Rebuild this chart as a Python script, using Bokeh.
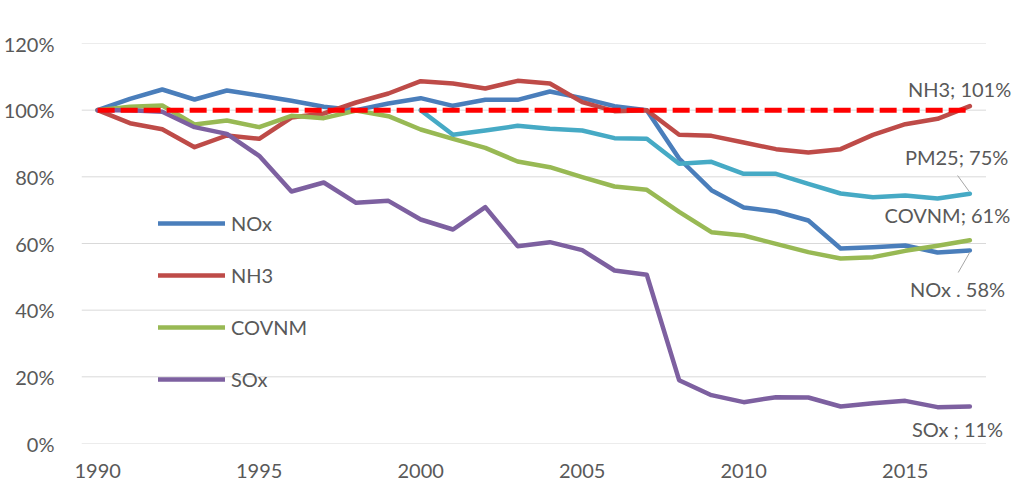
from bokeh.plotting import figure
from bokeh.models import Range1d, Legend, LegendItem, Label, PrintfTickFormatter, FixedTicker
from bokeh.embed import file_html
from bokeh.resources import INLINE

years = list(range(1990, 2018))
nox = [100, 103.4, 106.2, 103.2, 105.9, 104.4, 102.8, 101.0, 100.0, 102.0,
       103.6, 101.3, 103.1, 103.1, 105.6, 103.6, 101.2, 100.0, 85.5, 76.0,
       70.8, 69.6, 66.9, 58.5, 58.9, 59.4, 57.3, 57.9]
nh3 = [100, 96.1, 94.3, 88.9, 92.4, 91.4, 97.8, 99.0, 102.3, 105.0,
       108.7, 108.0, 106.5, 108.8, 108.0, 102.4, 99.7, 100.0, 92.6, 92.3,
       90.3, 88.3, 87.3, 88.3, 92.6, 95.8, 97.4, 101.2]
covnm = [100, 101.0, 101.4, 95.7, 96.9, 94.9, 98.3, 97.6, 99.9, 98.2,
         94.2, 91.4, 88.7, 84.6, 82.9, 79.9, 77.1, 76.1, 69.5, 63.4,
         62.4, 59.9, 57.4, 55.5, 55.9, 57.8, 59.3, 61.0]
sox = [100, 100.0, 99.5, 94.9, 92.9, 86.3, 75.6, 78.3, 72.2, 72.8,
       67.2, 64.2, 70.9, 59.2, 60.4, 58.0, 51.9, 50.6, 19.0, 14.5,
       12.4, 13.9, 13.8, 11.1, 12.1, 12.8, 10.9, 11.1]
pm25_years = list(range(2000, 2018))
pm25 = [100, 92.6, 93.9, 95.3, 94.4, 93.9, 91.6, 91.4, 83.9, 84.5,
        80.9, 80.9, 77.9, 75.0, 73.9, 74.4, 73.5, 74.9]
reference = [100] * len(years)

x_ticks = [1990, 1995, 2000, 2005, 2010, 2015]
y_ticks = [0, 20, 40, 60, 80, 100, 120]

end_labels = ["NH3; 101%", "PM25; 75%", "COVNM; 61%", "NOx . 58%", "SOx ; 11%"]

FONT = "Lato"
TXT = "#595959"
FS = "20px"

x_lo, x_hi = 1989.5, 2017.5

p = figure(width=1012, height=480, output_backend="svg", toolbar_location=None,
           x_range=Range1d(x_lo, 2018.32), y_range=Range1d(0, 120),
           min_border_left=74, min_border_right=0, min_border_top=43,
           min_border_bottom=37, background_fill_color="white",
           border_fill_color="white", outline_line_color=None)

p.xgrid.grid_line_color = None
p.ygrid.grid_line_color = None
p.yaxis.ticker = FixedTicker(ticks=y_ticks)
p.xaxis.ticker = FixedTicker(ticks=x_ticks)
p.yaxis.formatter = PrintfTickFormatter(format="%d%%")
for ax in (p.xaxis, p.yaxis):
    ax.axis_line_color = None
    ax.major_tick_line_color = None
    ax.minor_tick_line_color = None
    ax.major_label_text_font = FONT
    ax.major_label_text_font_size = FS
    ax.major_label_text_color = TXT
p.yaxis.major_label_standoff = 21
p.xaxis.major_label_standoff = 14

# horizontal gridlines limited to the category span
p.segment(x0=[x_lo] * len(y_ticks), y0=y_ticks, x1=[x_hi] * len(y_ticks), y1=y_ticks,
          line_color="#D9D9D9", line_width=1)

lw = 4.5
r_nox = p.line(years, nox, line_color="#4A7EBB", line_width=lw, line_cap="round", line_join="round")
r_nh3 = p.line(years, nh3, line_color="#BE4B48", line_width=lw, line_cap="round", line_join="round")
r_cov = p.line(years, covnm, line_color="#98B954", line_width=lw, line_cap="round", line_join="round")
r_sox = p.line(years, sox, line_color="#7D60A0", line_width=lw, line_cap="round", line_join="round")
r_pm = p.line(pm25_years, pm25, line_color="#46AAC5", line_width=lw, line_cap="round", line_join="round")
p.line(years, reference, line_color="#FF0000", line_width=5, line_dash="17 6")

# leader lines
p.segment(x0=[2016.62, 2016.64], y0=[80.4, 51.3], x1=[2016.98, 2017.0], y1=[75.6, 57.4],
          line_color="#A6A6A6", line_width=1)

legend = Legend(items=[
    LegendItem(label="NOx", renderers=[r_nox]),
    LegendItem(label="NH3", renderers=[r_nh3]),
    LegendItem(label="COVNM", renderers=[r_cov]),
    LegendItem(label="SOx", renderers=[r_sox]),
], location=(77, 52), orientation="vertical", padding=0, margin=0,
    spacing=28, glyph_width=67, glyph_height=24, label_height=24,
    label_standoff=6, label_text_font=FONT, label_text_font_size=FS,
    label_text_color=TXT, border_line_color=None, background_fill_alpha=0)
p.add_layout(legend, "center")

label_pos = [(2018.28, 106.5), (2018.19, 86.0), (2018.25, 68.6), (2018.09, 46.4), (2018.03, 4.4)]
for t, (lx, ly) in zip(end_labels, label_pos):
    p.add_layout(Label(x=lx, y=ly, text=t, text_align="right", text_baseline="middle",
                       text_font=FONT, text_font_size=FS, text_color=TXT))

open("out.html", "w").write(file_html(p, INLINE))
